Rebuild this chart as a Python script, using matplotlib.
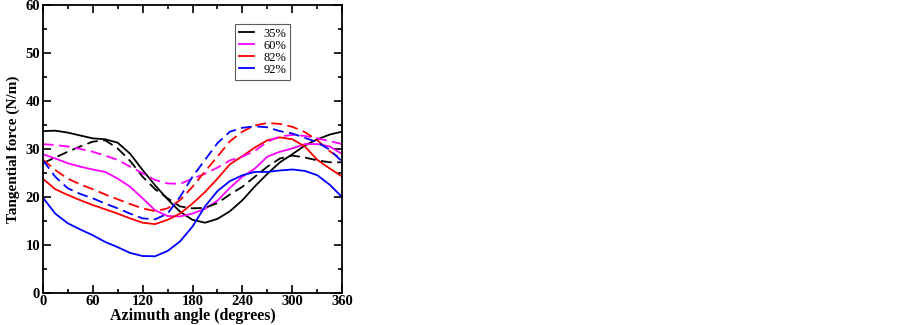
import numpy as np
import matplotlib
matplotlib.use("Agg")
import matplotlib.pyplot as plt

# azimuth angle (deg)
angle = np.arange(0, 361, 15)

# tangential force (N/m), solid lines
f35 = [33.7, 33.8, 33.4, 32.8, 32.2, 32.0, 31.3, 29.0, 25.6, 22.4, 19.5, 16.9, 15.2,
       14.6, 15.4, 17.0, 19.3, 22.2, 24.8, 27.2, 28.9, 30.7, 32.0, 33.0, 33.6]
f60 = [28.9, 28.0, 27.0, 26.3, 25.7, 25.2, 23.8, 22.1, 19.7, 17.2, 16.0, 15.9, 16.5,
       17.5, 19.2, 21.9, 24.2, 25.9, 28.4, 29.4, 30.1, 31.0, 31.0, 30.5, 28.9]
f82 = [23.8, 21.6, 20.4, 19.3, 18.3, 17.4, 16.5, 15.5, 14.6, 14.3, 15.2, 16.5, 18.6,
       21.0, 23.8, 26.8, 28.5, 30.3, 31.8, 32.4, 32.0, 30.5, 27.7, 25.9, 24.2]
f92 = [19.9, 16.5, 14.5, 13.2, 12.0, 10.6, 9.5, 8.3, 7.65, 7.6, 8.7, 10.7, 13.8,
       18.0, 21.2, 23.3, 24.5, 25.2, 25.2, 25.5, 25.7, 25.4, 24.5, 22.5, 19.9]

# dashed lines
d35 = [27.0, 28.2, 29.4, 30.5, 31.5, 31.8, 30.1, 27.5, 24.2, 21.6, 19.7, 18.0, 17.6,
       17.7, 18.7, 20.5, 22.1, 24.2, 26.3, 28.0, 28.6, 28.2, 27.6, 27.2, 27.2]
d60 = [31.0, 30.8, 30.5, 30.0, 29.4, 28.6, 27.7, 26.3, 24.9, 23.5, 22.8, 22.7, 23.8,
       24.8, 26.1, 27.6, 28.4, 29.6, 31.5, 32.6, 32.9, 32.7, 32.2, 31.6, 31.0]
d82 = [27.8, 25.6, 23.8, 22.6, 21.6, 20.5, 19.5, 18.5, 17.6, 17.0, 17.6, 19.3, 22.1,
       25.3, 28.4, 31.6, 33.6, 34.9, 35.4, 35.2, 34.6, 33.5, 31.8, 29.5, 27.7]
d92 = [27.7, 24.2, 21.8, 20.6, 19.7, 18.6, 17.6, 16.5, 15.5, 15.3, 16.5, 20.0, 24.2,
       27.7, 31.2, 33.6, 34.4, 34.7, 34.5, 33.7, 33.2, 32.3, 31.4, 29.8, 27.3]

labels = ['35%', '60%', '82%', '92%']
farger = ['black', '#ff00ff', '#ff0000', '#0000ff']

plt.rcParams['font.family'] = ['Liberation Serif', 'DejaVu Serif']

fig = plt.figure(figsize=(9.03, 3.25), dpi=100)
ax = fig.add_axes([0.0473, 0.0994, 0.3318, 0.885])

for y, lab, c in zip([f35, f60, f82, f92], labels, farger):
    ax.plot(angle, y, color=c, lw=1.3, label=lab)
for y, c in zip([d35, d60, d82, d92], farger):
    ax.plot(angle, y, color=c, lw=1.3, ls=(0, (6, 3)))

ax.set_xlim(0, 360)
ax.set_ylim(0, 60)
ax.set_xticks(np.arange(0, 361, 60))
ax.set_xticks(np.arange(0, 361, 30), minor=True)
ax.set_yticks(np.arange(0, 61, 10))
ax.set_yticks(np.arange(0, 61, 5), minor=True)
ax.tick_params(which='both', direction='in', top=True, right=True, width=1.2)
ax.tick_params(which='major', length=6, labelsize=10.5, pad=2)
ax.tick_params(which='minor', length=3)
for t in ax.get_xticklabels() + ax.get_yticklabels():
    t.set_fontweight('bold')
for s in ax.spines.values():
    s.set_linewidth(1.3)

ax.set_xlabel('Azimuth angle (degrees)', fontsize=11.5, fontweight='bold', labelpad=0)
ax.set_ylabel('Tangential force (N/m)', fontsize=11, fontweight='bold', labelpad=4)

leg = ax.legend(loc='upper left', bbox_to_anchor=(0.642, 0.934), fontsize=9,
                frameon=True, fancybox=False, handlelength=1.25, handletextpad=0.7,
                borderpad=0.3, labelspacing=0.0, borderaxespad=0)
leg.get_frame().set_edgecolor('#333333')
leg.get_frame().set_linewidth(0.8)

fig.savefig('out.png', dpi=100)
